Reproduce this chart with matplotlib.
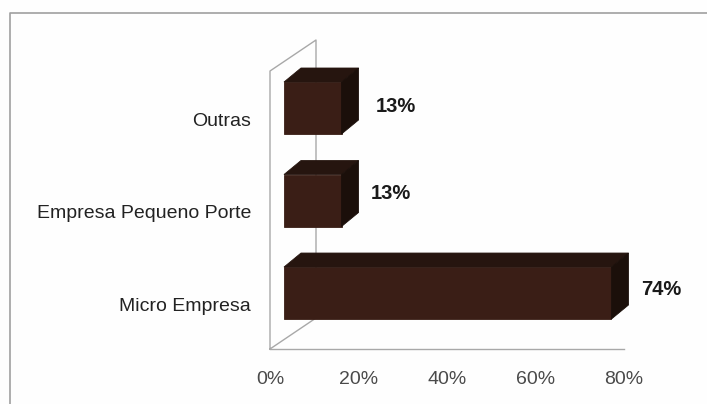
import matplotlib
matplotlib.use("Agg")
import matplotlib.pyplot as plt
from matplotlib.patches import Polygon
from matplotlib.lines import Line2D

categories = ["Micro Empresa", "Empresa Pequeno Porte", "Outras"]
values = [74, 13, 13]
value_labels = ["74%", "13%", "13%"]
x_ticks = [0, 20, 40, 60, 80]
x_tick_labels = ["0%", "20%", "40%", "60%", "80%"]

W, H = 707, 404
plt.rcParams["font.family"] = ["Liberation Sans", "DejaVu Sans"]
fig = plt.figure(figsize=(W / 100, H / 100), dpi=100, facecolor="#fefefe")

L, R, B, T = 270, 624, 349, 71
ax = fig.add_axes([L / W, 1 - B / H, (R - L) / W, (B - T) / H])
ax.set_xlim(0, 80)
ax.set_ylim(-0.605, 2.4)
ax.patch.set_visible(False)
for s in ax.spines.values():
    s.set_visible(False)
ax.set_xticks(x_ticks, x_tick_labels, fontsize=14, color="#4a4a4a")
ax.tick_params(axis="x", length=0, pad=16)
ax.set_yticks([])

fig.canvas.draw()
GRAY = "#a8a8a8"

# frame of the picture
fig.add_artist(Line2D([10 / W, 10 / W, 1], [0, 1 - 13 / H, 1 - 13 / H], color="#a0a0a0", lw=1.2))

# 3D wall and floor
wall_dx, wall_dy = 46, 31
for seg in ([(L, B), (L, T), (L + wall_dx, T - wall_dy), (L + wall_dx, B - wall_dy), (L, B)],
            [(L, B), (R, B)]):
    xs, ys = zip(*seg)
    fig.add_artist(Line2D([x / W for x in xs], [1 - y / H for y in ys], color=GRAY, lw=1.0, zorder=1))

# 3D bars
off = 14
dx, dy = 17, 14
height = 0.562
fc_front, fc_top, fc_side = "#3a1e16", "#26150f", "#1b0f0a"
val_off = [(50, -4), (49, -7), (54, -2)]
cat_off = 13
for i, (cat, v, lab) in enumerate(zip(categories, values, value_labels)):
    (x0, y0), (x1, y1) = ax.transData.transform([(0, i - height / 2), (v, i + height / 2)])
    x0 += off
    x1 += off
    faces = [
        ([(x0, y0), (x1, y0), (x1, y1), (x0, y1)], fc_front),
        ([(x0, y1), (x1, y1), (x1 + dx, y1 + dy), (x0 + dx, y1 + dy)], fc_top),
        ([(x1, y0), (x1 + dx, y0 + dy), (x1 + dx, y1 + dy), (x1, y1)], fc_side),
    ]
    for pts, c in faces:
        fig.add_artist(Polygon(pts, closed=True, facecolor=c, edgecolor=c, lw=0.6,
                               transform=None, zorder=3))
    ax.annotate(lab, xy=(v, i), xytext=((off + val_off[i][0]) * 0.72, -val_off[i][1] * 0.72),
                textcoords="offset points", ha="center", va="center",
                fontsize=14.5, fontweight="bold", color="#1a1a1a", annotation_clip=False)
    ax.annotate(cat, xy=(0, i), xytext=(-19 * 0.72, -cat_off * 0.72),
                textcoords="offset points", ha="right", va="center",
                fontsize=14, color="#222222", annotation_clip=False)

fig.savefig("out.png", dpi=100, facecolor=fig.get_facecolor())
